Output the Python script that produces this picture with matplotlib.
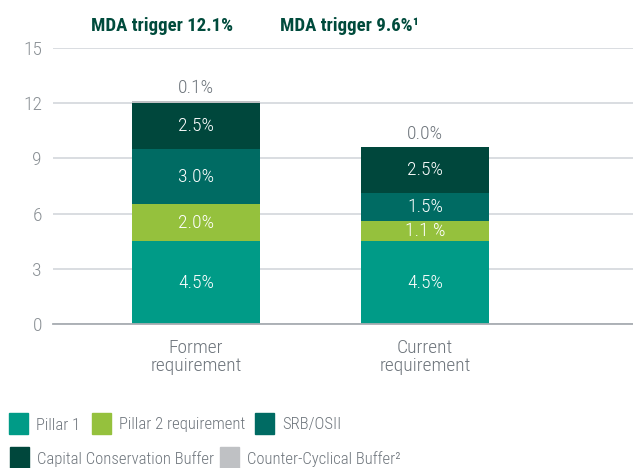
import matplotlib
matplotlib.use("Agg")
import matplotlib.pyplot as plt
from matplotlib.patches import Rectangle
import numpy as np

plt.rcParams['font.family'] = ['Roboto Condensed', 'DejaVu Sans']
plt.rcParams['font.weight'] = 'light'

categories = ["Former\nrequirement", "Current\nrequirement"]
series_names = ["Pillar 1", "Pillar 2 requirement", "SRB/OSII",
                "Capital Conservation Buffer", "Counter-Cyclical Buffer\u00b2"]
pillar1 = [4.5, 4.5]
pillar2 = [2.0, 1.1]
srb_osii = [3.0, 1.5]
ccb = [2.5, 2.5]
ccyb = [0.1, 0.0]
segment_labels = [["4.5%", "4.5%"], ["2.0%", "1.1 %"], ["3.0%", "1.5%"],
                  ["2.5%", "2.5%"], ["0.1%", "0.0%"]]
headers = ["MDA trigger 12.1%", "MDA trigger 9.6%\u00b9"]
yticks = [0, 3, 6, 9, 12, 15]

colors = ["#009B87", "#95C13D", "#006B63", "#00473C", "#BFC1C4"]
grey_text = "#6E757C"
dark_green = "#004B3C"
fs = 14

fig = plt.figure(figsize=(6.33, 4.68), dpi=100)
ax = fig.add_axes([53/633, 1 - 324/468, 1 - 53/633, 276/468])

x = np.arange(len(categories))
width = 0.56
series = [pillar1, pillar2, srb_osii, ccb, ccyb]
bottom = np.zeros(len(categories))
for i, vals in enumerate(series):
    vals = np.array(vals)
    ax.bar(x, vals, width, bottom=bottom, color=colors[i], linewidth=0, zorder=3)
    for j in range(len(categories)):
        if i < 4:
            ax.text(x[j], bottom[j] + vals[j] / 2, segment_labels[i][j],
                    ha="center", va="center", color="white", fontsize=fs, zorder=4)
        else:
            ax.text(x[j], bottom[j] + vals[j] + 0.25, segment_labels[i][j],
                    ha="center", va="bottom", color=grey_text, fontsize=fs, zorder=4)
    bottom = bottom + vals

ax.set_xlim(-0.624, 1.908)
ax.set_ylim(0, 15)
ax.set_yticks(yticks)
ax.set_yticklabels([str(t) for t in yticks], color="#8A9095", fontsize=fs)
ax.yaxis.grid(True, color="#D3D7DB", linewidth=1.2, zorder=0)
ax.set_axisbelow(True)
ax.set_xticks(x)
ax.set_xticklabels(categories, color=grey_text, fontsize=fs, linespacing=1.0)
ax.tick_params(axis="both", length=0, pad=8)
ax.tick_params(axis="x", pad=11)
for s in ["top", "right", "left"]:
    ax.spines[s].set_visible(False)
ax.spines["bottom"].set_color("#A8ADB2")
ax.spines["bottom"].set_linewidth(1.3)
ax.spines["bottom"].set_zorder(5)

fig.text(162/633, 1 - 26/468, headers[0], ha="center", va="center",
         color=dark_green, fontsize=13.5, fontweight="bold")
fig.text(350/633, 1 - 26/468, headers[1], ha="center", va="center",
         color=dark_green, fontsize=13.5, fontweight="bold")

# legend drawn as swatches and labels in figure pixels
legend_items = [
    (9, 413, 0), (92, 413, 1), (255, 413, 2),
    (10, 447, 3), (220, 447, 4),
]
for lx, ly, idx in legend_items:
    fig.patches.append(Rectangle((lx/633, 1 - (ly + 21)/468), 19/633, 21/468,
                                 transform=fig.transFigure, color=colors[idx]))
    fig.text((lx + 27)/633, 1 - (ly + 12)/468, series_names[idx], ha="left",
             va="center", color=grey_text, fontsize=12)

fig.savefig("out.png", dpi=100)
